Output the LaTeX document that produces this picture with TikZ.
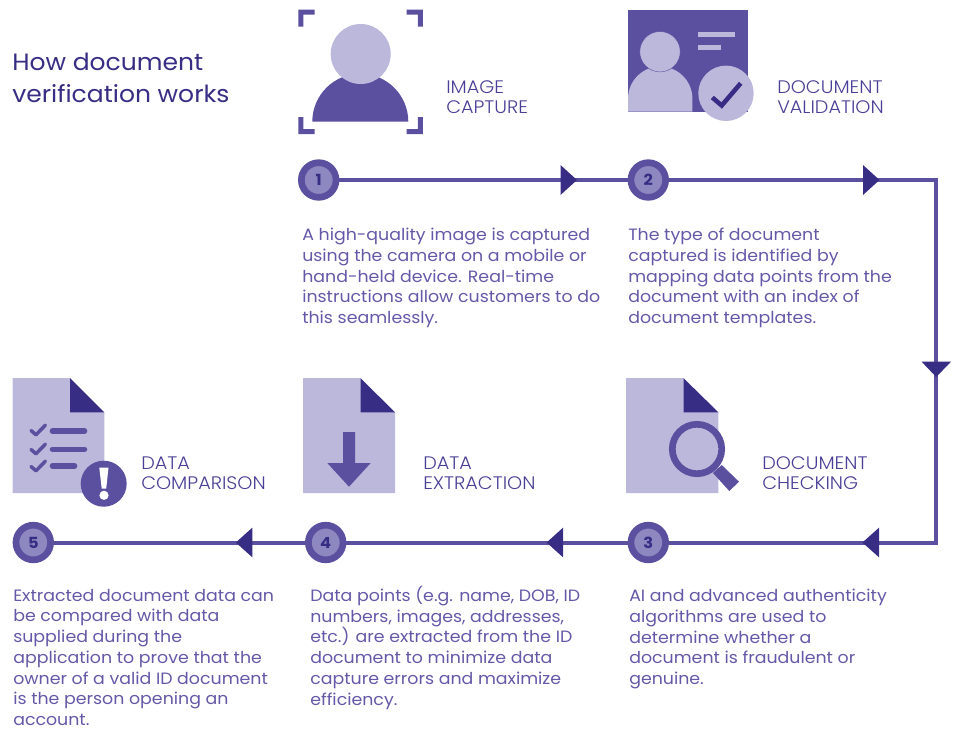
\documentclass[tikz,border=0pt]{standalone}
\usepackage{fontspec}
\setmainfont[FakeStretch=1.06]{Poppins}
\newfontfamily\lightface[FakeStretch=1.06]{Poppins Light}
\definecolor{medium}{HTML}{5B4F9F}
\definecolor{darkv}{HTML}{372D85}
\definecolor{lightv}{HTML}{BBB8DC}
\definecolor{midv}{HTML}{8E88C0}
\definecolor{bodyv}{HTML}{6558A8}
\definecolor{labelv}{HTML}{4A3F96}
\tikzset{
  stepnum/.style={circle,fill=midv,draw=medium,line width=5pt,minimum size=26pt,inner sep=0pt,font=\fontsize{11.5pt}{12pt}\selectfont\bfseries,text=darkv},
  flow/.style={draw=medium,line width=3pt,line join=miter},
  bodytext/.style={anchor=north west,inner sep=0pt,align=left,text=bodyv,font=\fontsize{12.3pt}{15.58pt}\selectfont},
  labeltext/.style={anchor=north west,inner sep=0pt,align=left,text=labelv,font=\lightface\fontsize{13.6pt}{15pt}\selectfont},
  titletext/.style={anchor=north west,inner sep=0pt,align=left,text=darkv,font=\fontsize{17.7pt}{24pt}\selectfont},
  headtri/.style={fill=darkv},
  pagefill/.style={fill=lightv},
  iconfill/.style={fill=medium},
  check/.style={draw=medium,line width=2.6pt,line cap=round,line join=round},
  listbar/.style={draw=medium,line width=4.2pt,line cap=round},
}
\newcommand{\docpage}[2]{% left x, right x
  \fill[pagefill] (#1,378.2) -- ({#1+57.5},378.2) -- (#2,412.3) -- (#2,493) -- (#1,493) -- cycle;
  \fill[headtri] ({#1+57.5},378.2) -- ({#1+57.5},412.3) -- (#2,412.3) -- cycle;
}
\begin{document}
\begin{tikzpicture}[x=0.75pt,y=-0.75pt]
\useasboundingbox (0,0) rectangle (961,729);
% step nodes
\node[stepnum] (s1) at (318.7,180) {1};
\node[stepnum] (s2) at (648.3,180) {2};
\node[stepnum] (s3) at (648.3,542.5) {3};
\node[stepnum] (s4) at (325.7,542.5) {4};
\node[stepnum] (s5) at (33.3,542.5) {5};
\coordinate (c1) at (936.2,180);
\coordinate (c2) at (936.2,542.5);
% connectors
\draw[flow] (s1) -- (s2);
\draw[flow] (s2) -- (c1) -- (c2) -- (s3);
\draw[flow] (s3) -- (s4);
\draw[flow] (s4) -- (s5);
% arrowheads
\fill[headtri] (560.5,165) -- (577,180) -- (560.5,195) -- cycle;
\fill[headtri] (863,165) -- (879.5,180) -- (863,195) -- cycle;
\fill[headtri] (921.6,361.7) -- (951,361.7) -- (936.2,377) -- cycle;
\fill[headtri] (879,527.7) -- (862.4,542.5) -- (879,557.3) -- cycle;
\fill[headtri] (563,527.7) -- (546.6,542.5) -- (563,557.3) -- cycle;
\fill[headtri] (252.3,527.7) -- (235.8,542.5) -- (252.3,557.3) -- cycle;
% icon 1: image capture
\fill[iconfill] (298.3,9.5) -- (314.5,9.5) -- (314.5,14.5) -- (303.3,14.5) -- (303.3,26.7) -- (298.3,26.7) -- cycle;
\fill[iconfill] (422.8,9.5) -- (406.7,9.5) -- (406.7,14.5) -- (417.8,14.5) -- (417.8,26.7) -- (422.8,26.7) -- cycle;
\fill[iconfill] (298.3,134) -- (314.5,134) -- (314.5,129) -- (303.3,129) -- (303.3,117) -- (298.3,117) -- cycle;
\fill[iconfill] (422.8,134) -- (406.7,134) -- (406.7,129) -- (417.8,129) -- (417.8,117) -- (422.8,117) -- cycle;
\fill[iconfill] (312.3,121.7) arc[start angle=180,end angle=360,radius=48] -- cycle;
\fill[pagefill] (360.7,54) circle[radius=30];
% icon 2: document validation
\fill[iconfill] (627.7,9.5) rectangle (747.7,111.7);
\fill[pagefill] (628,111.7) -- (628,98.7) arc[start angle=180,end angle=360,radius=32.2] -- (692.4,111.7) -- cycle;
\filldraw[pagefill,draw=medium,line width=0.3pt] (660,51.7) circle[radius=20.2];
\fill[pagefill] (698,32) rectangle (735,37);
\fill[pagefill] (698,45) rectangle (721,50);
\fill[pagefill] (726,93.3) circle[radius=27.7];
\draw[darkv,line width=3.4pt,line join=miter] (712.3,97.5) -- (721.7,105.5) -- (740.7,83.3);
% icon 3: document checking
\docpage{626}{718.3}
\fill[iconfill] (721.7,465) -- (739,481.7) -- (729.3,491) -- (713,473) -- cycle;
\draw[medium,line width=5pt] (697,449) circle[radius=24.7];
% icon 4: data extraction
\docpage{303}{395}
\fill[iconfill] (343,432) -- (355,432) -- (355,463) -- (370.7,463) -- (349,486.7) -- (327.3,463) -- (343,463) -- cycle;
% icon 5: data comparison
\docpage{12.7}{104.3}
\draw[check] (31,430.5) -- (36,434.8) -- (45.5,425);
\draw[check] (31,449.5) -- (36,453.8) -- (45.5,444);
\draw[check] (31,466.5) -- (36,470.8) -- (45.5,461);
\draw[listbar] (52.5,431) -- (84.5,431);
\draw[listbar] (52.5,449.3) -- (84.5,449.3);
\draw[listbar] (52.5,466) -- (74.5,466);
\fill[iconfill] (103.7,483.7) circle[radius=23];
\fill[white] (99.3,467.7) -- (108.5,467.7) -- (106.2,488.5) -- (101.7,488.5) -- cycle;
\fill[white] (104,495.3) circle[radius=4.6];
% texts
\node[titletext] (title) at (12,53) {How document\\verification works};
\node[labeltext] (l1) at (446,80) {IMAGE\\CAPTURE};
\node[labeltext] (l2) at (777,80) {DOCUMENT\\VALIDATION};
\node[labeltext] (l3) at (762,456) {DOCUMENT\\CHECKING};
\node[labeltext] (l4) at (423,457) {DATA\\EXTRACTION};
\node[labeltext] (l5) at (141,457) {DATA\\COMPARISON};
\node[bodytext] (t1) at (302,227.7) {A high-quality image is captured\\using the camera on a mobile or\\hand-held device. Real-time\\instructions allow customers to do\\this seamlessly.};
\node[bodytext] (t2) at (628,227.7) {The type of document\\captured is identified by\\mapping data points from the\\document with an index of\\document templates.};
\node[bodytext] (t3) at (629,588.7) {AI and advanced authenticity\\algorithms are used to\\determine whether a\\document is fraudulent or\\genuine.};
\node[bodytext] (t4) at (310,585.7) {Data points (e.g. name, DOB, ID\\numbers, images, addresses,\\etc.) are extracted from the ID\\document to minimize data\\capture errors and maximize\\efficiency.};
\node[bodytext] (t5) at (13,588.7) {Extracted document data can\\be compared with data\\supplied during the\\application to prove that the\\owner of a valid ID document\\is the person opening an\\account.};
\end{tikzpicture}
\end{document}
